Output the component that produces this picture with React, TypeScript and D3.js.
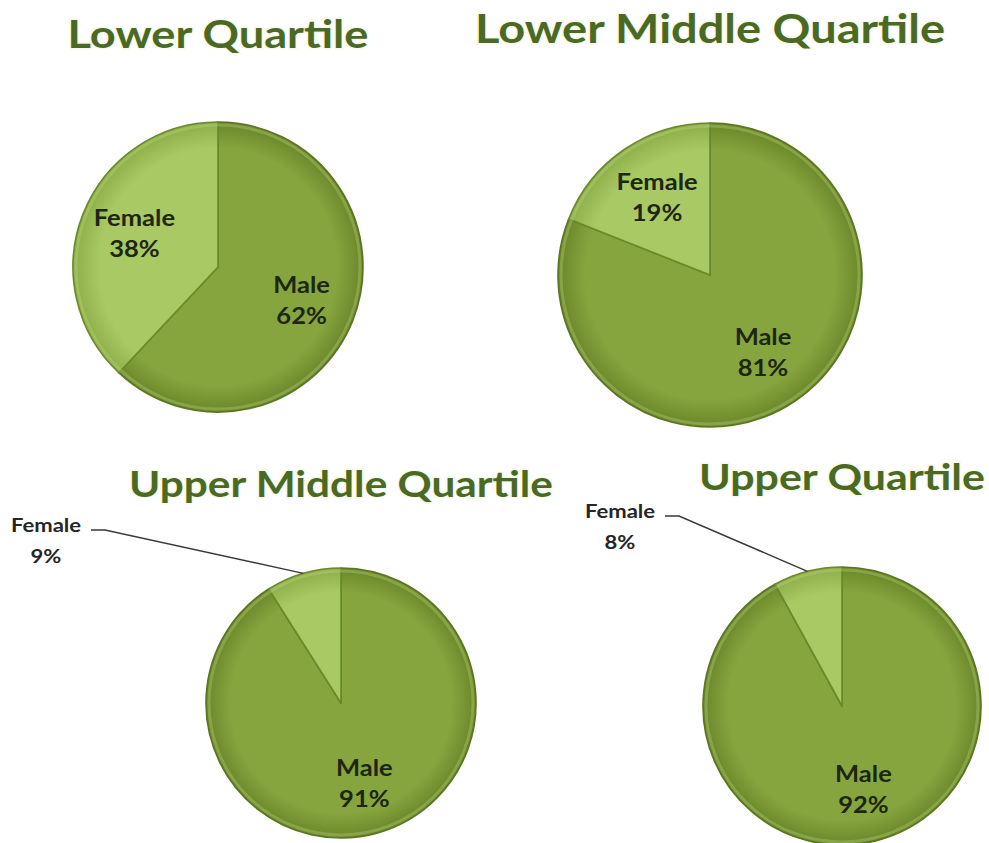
import React from "react";
import * as d3 from "d3";

// chart values
const titles = [
  "Lower Quartile",
  "Lower Middle Quartile",
  "Upper Middle Quartile",
  "Upper Quartile",
];
const categories = ["Male", "Female"];
const maleShare = [62, 81, 91, 92];
const femaleShare = [38, 19, 9, 8];

// where each pie sits on the page
const layout = [
  { cx: 218, cy: 267, r: 145, titleY: 48, titleSize: 39, outDx: 0, outDy: 0 },
  { cx: 710, cy: 275, r: 152, titleY: 43, titleSize: 40.5, outDx: 0, outDy: 0 },
  { cx: 341, cy: 703, r: 135, titleY: 497, titleSize: 36.5, outDx: -295, outDy: -171 },
  { cx: 842, cy: 706, r: 139, titleY: 490, titleSize: 37, outDx: -222, outDy: -188 },
];

const sliceColors = {
  Male: { mid: "#86a53f", edge: "#6a8729", stroke: "#5a7620" },
  Female: { mid: "#a9c964", edge: "#8cad47", stroke: "#6a8a2c" },
};

const FONT = "Lato, 'Open Sans', sans-serif";
const STRETCH = 1.16;
const LINE = 31;

const Title = ({ text, x, y, size }) => (
  <g transform={`translate(${x} ${y}) scale(${STRETCH} 1)`}>
    <text
      textAnchor="middle"
      fontFamily={FONT}
      fontWeight="bold"
      fontSize={size}
      fill="#4a6a24"
      stroke="#eef3d6"
      strokeWidth={3}
      strokeOpacity={0.45}
      paintOrder="stroke"
    >
      {text}
    </text>
  </g>
);

const Label = ({ x, y, lines, fill, size = 22 }) => (
  <g transform={`translate(${x} ${y}) scale(${STRETCH} 1)`}>
    <text
      textAnchor="middle"
      fontFamily={FONT}
      fontWeight="bold"
      fontSize={size}
      fill={fill}
    >
      {lines.map((l, i) => (
        <tspan key={i} x={0} y={i * LINE}>
          {l}
        </tspan>
      ))}
    </text>
  </g>
);

const QuartilePie = ({ index }) => {
  const L = layout[index];
  const values = [maleShare[index], femaleShare[index]];
  const rows = categories.map((c, i) => ({ cat: c, value: values[i] }));

  const createPie = d3
    .pie()
    .value((d) => d.value)
    .sort(null);
  const createArc = d3.arc().innerRadius(0).outerRadius(L.r);
  const labelArc = d3
    .arc()
    .innerRadius(L.r * 0.62)
    .outerRadius(L.r * 0.62);
  const edgeArc = d3.arc().innerRadius(L.r).outerRadius(L.r);
  const data = createPie(rows);

  return (
    <g>
      <defs>
        {categories.map((cat) => (
          <radialGradient
            key={cat}
            id={`grad-${index}-${cat}`}
            gradientUnits="userSpaceOnUse"
            cx={0}
            cy={0}
            r={L.r}
          >
            <stop offset="0%" stopColor={sliceColors[cat].mid} />
            <stop offset="82%" stopColor={sliceColors[cat].mid} />
            <stop offset="100%" stopColor={sliceColors[cat].edge} />
          </radialGradient>
        ))}
      </defs>
      <Title text={titles[index]} x={L.cx} y={L.titleY} size={L.titleSize} />
      <g transform={`translate(${L.cx} ${L.cy})`}>
        {data.map((d, i) => {
          const c = sliceColors[d.data.cat];
          return (
            <path
              key={i}
              d={createArc(d)}
              fill={`url(#grad-${index}-${d.data.cat})`}
              stroke={c.stroke}
              strokeWidth={1.6}
              strokeLinejoin="round"
            />
          );
        })}
        {/* soft rim highlight */}
        <circle
          r={L.r - 3}
          fill="none"
          stroke="#c8de8c"
          strokeOpacity={0.3}
          strokeWidth={3}
        />
        {data.map((d, i) => {
          const text = [d.data.cat, d.data.value + "%"];
          if (d.data.value < 10) {
            // small slice: label outside with a leader line
            const [ex, ey] = edgeArc.centroid(d);
            const lx = L.outDx;
            const ly = L.outDy;
            const sx = lx + 45;
            return (
              <g key={i}>
                <polyline
                  points={`${sx},${ly - 2} ${sx + 14},${ly - 2} ${ex},${ey}`}
                  fill="none"
                  stroke="#3a3a3a"
                  strokeWidth={1.5}
                />
                <Label x={lx} y={ly} lines={text} fill="#262626" size={19} />
              </g>
            );
          }
          const [x, y] = labelArc.centroid(d);
          return (
            <Label key={i} x={x} y={y - 7.5} lines={text} fill="#1d260f" />
          );
        })}
      </g>
    </g>
  );
};

export default function App() {
  return (
    <svg
      width={989}
      height={843}
      viewBox="0 0 989 843"
      style={{ position: "absolute", left: 0, top: 0, background: "#fff" }}
    >
      {titles.map((t, i) => (
        <QuartilePie key={t} index={i} />
      ))}
    </svg>
  );
}
